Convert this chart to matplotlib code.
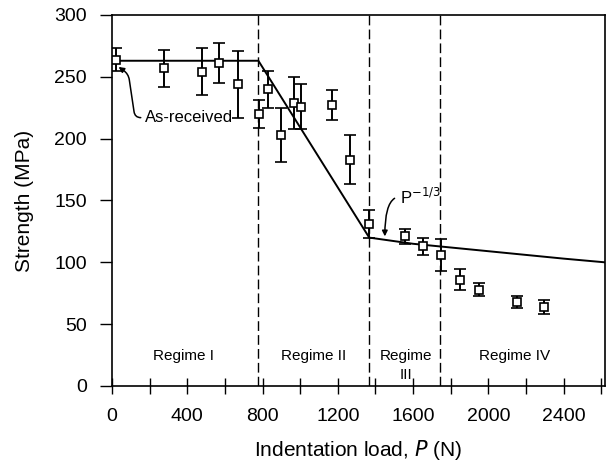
import numpy as np
import matplotlib.pyplot as plt

plt.rcParams['font.family'] = ['Liberation Sans', 'DejaVu Sans']

# measured points (load in N, strength in MPa, error)
load = [21, 277, 478, 571, 672, 783, 831, 898, 968, 1007, 1168, 1265,
        1367, 1559, 1652, 1748, 1850, 1952, 2150, 2297]
strength = [264, 257, 254, 261, 244, 220, 240, 203, 229, 226, 227, 183,
            131, 121, 113, 106, 86, 78, 68, 64]
err = [9, 15, 19, 16, 27, 11, 15, 22, 21, 18, 12, 20,
       11, 6, 7, 13, 8.5, 5.5, 5, 5.5]

# model line vertices
line_load = [0, 778, 1367, 1600, 2000, 2400, 2620]
line_strength = [263, 263, 120, 115, 109, 103, 100]

# regime boundaries
bounds = [778, 1367, 1744]
regime_x = [380, 1070, 1560, 2140]
regime_labels = ['Regime I', 'Regime II', 'Regime\nIII', 'Regime IV']

fig = plt.figure(figsize=(6.07, 4.63), dpi=100)
ax = fig.add_axes([112/607, 1-386/463, (605-112)/607, (386-15)/463])

ax.plot(line_load, line_strength, color='black', lw=1.4, zorder=2)
ax.errorbar(load, strength, yerr=err, fmt='s', mfc='white', mec='black',
            ms=6, mew=1.2, ecolor='black', elinewidth=1.4, capsize=4.2,
            capthick=1.4, zorder=3)

for b in bounds:
    ax.axvline(b, color='black', lw=1, ls=(0, (7, 3)), zorder=1)

for x, t in zip(regime_x, regime_labels):
    ax.text(x, 30, t, ha='center', va='top', fontsize=11, linespacing=1.5)

ax.annotate('As-received', xy=(35, 258), xytext=(175, 217),
            fontsize=12, ha='left', va='center',
            arrowprops=dict(arrowstyle='-|>', color='black', lw=1.1,
                            mutation_scale=8, shrinkA=1, shrinkB=0,
                            relpos=(0, 0.5),
                            connectionstyle='arc,angleA=180,armA=10,angleB=-35,armB=12,rad=6'))
ax.annotate('P$^{-1/3}$', xy=(1450, 121), xytext=(1530, 153),
            fontsize=12, ha='left', va='center',
            arrowprops=dict(arrowstyle='-|>', color='black', lw=1.1,
                            mutation_scale=8, shrinkA=2, shrinkB=0,
                            relpos=(0, 0.5),
                            connectionstyle='angle3,angleA=0,angleB=90'))

ax.set_xlim(0, 2620)
ax.set_ylim(0, 300)
ax.set_xticks(np.arange(0, 2601, 400))
ax.set_xticks(np.arange(0, 2601, 200), minor=True)
ax.set_yticks(np.arange(0, 301, 50))
ax.tick_params(axis='y', direction='out', length=9, width=1, labelsize=14, pad=9)
ax.tick_params(axis='x', which='both', direction='inout', length=12, width=1,
               labelsize=14, pad=10)
for s in ax.spines.values():
    s.set_linewidth(1.2)

ax.set_xlabel('Indentation load, $P$ (N)', fontsize=15, labelpad=9)
ax.set_ylabel('Strength (MPa)', fontsize=15, labelpad=15)

fig.savefig('out.png', dpi=100)
